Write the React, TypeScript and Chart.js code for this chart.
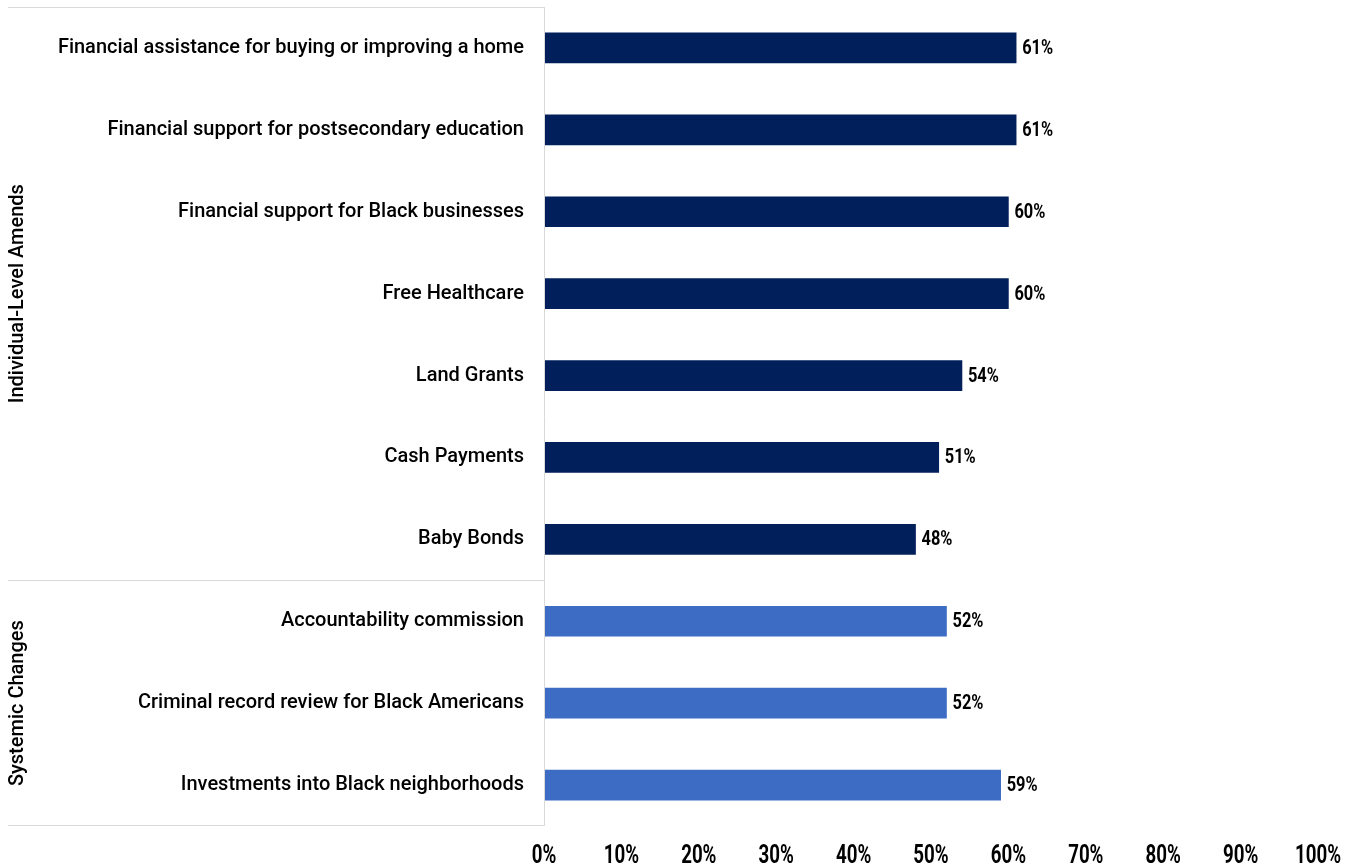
import React, { useEffect, useRef } from "react";
import { Chart, registerables } from "chart.js";

Chart.register(...registerables);

const categories = [
  "Financial assistance for buying or improving a home",
  "Financial support for postsecondary education",
  "Financial support for Black businesses",
  "Free Healthcare",
  "Land Grants",
  "Cash Payments",
  "Baby Bonds",
  "Accountability commission",
  "Criminal record review for Black Americans",
  "Investments into Black neighborhoods",
];
const values = [0.61, 0.61, 0.6, 0.6, 0.54, 0.51, 0.48, 0.52, 0.52, 0.59];
const groups = ["Individual", "Individual", "Individual", "Individual", "Individual", "Individual", "Individual", "Systemic", "Systemic", "Systemic"];
const groupLabels = [
  { key: "Individual", label: "Individual-Level Amends" },
  { key: "Systemic", label: "Systemic Changes" },
];
const xTicks = [0, 0.1, 0.2, 0.3, 0.4, 0.5, 0.6, 0.7, 0.8, 0.9, 1];
const DARK = "#001F5B";
const LIGHT = "#3D6CC4";
const NUMFONT = "Roboto, 'DejaVu Sans Condensed', sans-serif";
const SANS = "Roboto, 'Liberation Sans', Arial, sans-serif";

const pct = (v: number) => Math.round(v * 100) + "%";

export default function App() {
  const ref = useRef<HTMLCanvasElement>(null);
  useEffect(() => {
    if (!ref.current) return;
    const frame = {
      id: "frame",
      afterDraw(chart: any) {
        const ctx = chart.ctx;
        const area = chart.chartArea;
        const y = chart.scales.y;
        const x = chart.scales.x;
        const left = 8;
        ctx.save();
        ctx.strokeStyle = "#D9D9D9";
        ctx.lineWidth = 1;
        const sep = (y.getPixelForValue(6) + y.getPixelForValue(7)) / 2;
        ctx.beginPath();
        ctx.moveTo(left, area.top + 0.5);
        ctx.lineTo(area.left, area.top + 0.5);
        ctx.moveTo(left, Math.round(sep) + 0.5);
        ctx.lineTo(area.left, Math.round(sep) + 0.5);
        ctx.moveTo(left, area.bottom - 0.5);
        ctx.lineTo(area.left, area.bottom - 0.5);
        ctx.moveTo(area.left + 0.5, area.top);
        ctx.lineTo(area.left + 0.5, area.bottom);
        ctx.stroke();
        // group labels
        ctx.fillStyle = "#000";
        ctx.font = `500 20px ${SANS}`;
        ctx.textAlign = "center";
        ctx.textBaseline = "middle";
        groupLabels.forEach((g) => {
          const idx = groups.map((v, i) => (v === g.key ? i : -1)).filter((i) => i >= 0);
          const top = idx[0] === 0 ? area.top : sep;
          const bottom = idx[idx.length - 1] === groups.length - 1 ? area.bottom : sep;
          ctx.save();
          ctx.translate(18, (top + bottom) / 2);
          ctx.rotate(-Math.PI / 2);
          ctx.fillText(g.label, 0, 0);
          ctx.restore();
        });
        // value labels
        const meta = chart.getDatasetMeta(0);
        ctx.font = `bold 20px ${NUMFONT}`;
        ctx.textAlign = "left";
        meta.data.forEach((bar: any, i: number) => {
          ctx.save();
          ctx.translate(bar.x + 6, bar.y + 1);
          ctx.scale(0.82, 1);
          ctx.fillText(pct(values[i]), 0, 0);
          ctx.restore();
        });
        // x tick labels
        ctx.font = `bold 26px ${NUMFONT}`;
        ctx.textAlign = "center";
        xTicks.forEach((t) => {
          ctx.save();
          ctx.translate(x.getPixelForValue(t), area.bottom + 30);
          ctx.scale(0.72, 1);
          ctx.fillText(pct(t), 0, 0);
          ctx.restore();
        });
        ctx.restore();
      },
    };
    const chart = new Chart(ref.current, {
      type: "bar",
      data: {
        labels: categories,
        datasets: [
          {
            data: values,
            backgroundColor: groups.map((g) => (g === "Individual" ? DARK : LIGHT)),
            barThickness: 30,
          },
        ],
      },
      options: {
        indexAxis: "y",
        animation: false,
        responsive: true,
        maintainAspectRatio: false,
        layout: { padding: { top: 7, right: 35, left: 8, bottom: 0 } },
        plugins: { legend: { display: false }, tooltip: { enabled: false } },
        scales: {
          x: {
            min: 0,
            max: 1,
            border: { display: false },
            grid: { display: false, drawTicks: false },
            ticks: { display: false, stepSize: 0.1 },
            afterFit: (s: any) => {
              s.height = 41;
              s.paddingLeft = 0;
              s.paddingRight = 0;
            },
          },
          y: {
            border: { display: false },
            grid: { display: false, drawTicks: false },
            ticks: {
              padding: 20,
              color: "#000",
              font: { family: SANS, size: 20, weight: "500" },
            },
            afterFit: (s: any) => {
              s.width = 536;
              s.paddingTop = 0;
              s.paddingBottom = 0;
            },
          },
        },
      },
      plugins: [frame],
    });
    return () => chart.destroy();
  }, []);
  return (
    <div style={{ position: "fixed", left: 0, top: 0, width: 1353, height: 867, background: "#fff" }}>
      <canvas ref={ref} />
    </div>
  );
}
